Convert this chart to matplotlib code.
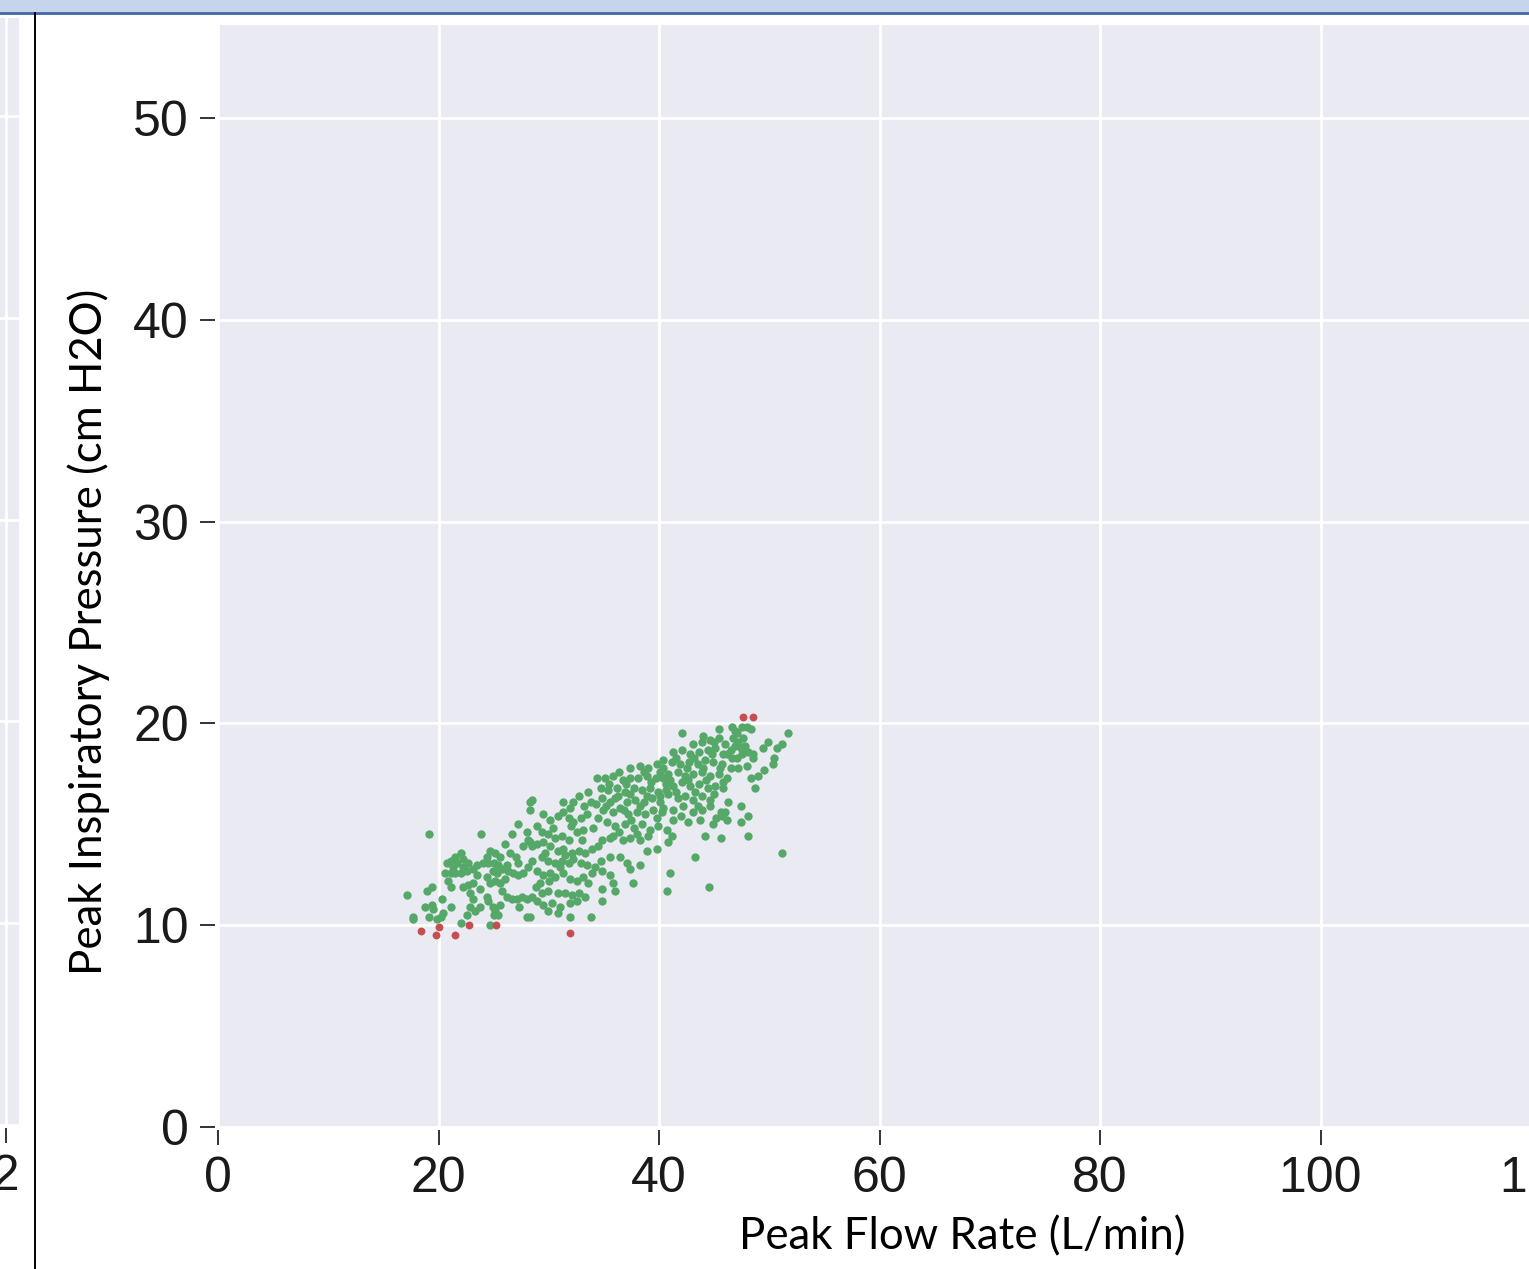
import matplotlib
matplotlib.use("Agg")
import matplotlib.pyplot as plt
from matplotlib.patches import Rectangle
from matplotlib.lines import Line2D

# (peak flow L/min, peak inspiratory pressure cm H2O)
green_points = [
    (19.1, 14.5), (23.9, 14.5), (27.2, 15.0), (28.3, 16.1), (28.3, 15.7), (26.7, 14.5),
    (28.0, 14.6), (28.1, 14.2), (27.7, 13.9), (28.5, 13.9), (22.0, 13.6), (21.5, 13.4),
    (21.1, 13.2), (20.8, 13.1), (22.2, 13.3), (22.7, 13.1), (21.7, 13.1), (21.3, 12.9),
    (20.6, 12.6), (21.1, 12.6), (21.5, 12.6), (22.0, 12.6), (22.6, 12.7), (23.1, 12.8),
    (23.5, 13.0), (24.0, 13.1), (24.4, 13.4), (24.7, 13.7), (25.1, 13.6), (25.6, 13.4),
    (24.5, 13.1), (25.0, 13.1), (25.4, 13.0), (24.9, 12.7), (25.3, 12.6), (25.8, 12.8),
    (26.2, 13.0), (26.5, 13.6), (27.0, 13.4), (27.2, 13.1), (26.8, 12.6), (27.2, 12.5),
    (27.7, 12.6), (28.1, 12.9), (28.5, 13.2), (24.4, 12.4), (24.7, 12.1), (25.1, 12.2),
    (25.6, 12.1), (26.0, 12.3), (22.2, 11.9), (22.7, 12.0), (23.1, 12.1), (21.1, 11.9),
    (19.0, 11.7), (19.4, 11.9), (17.1, 11.5), (22.9, 11.6), (23.1, 11.3), (22.9, 10.9),
    (23.8, 11.8), (24.4, 11.4), (24.5, 11.2), (24.9, 10.9), (25.1, 10.7), (25.4, 10.5),
    (25.0, 10.5), (25.8, 11.7), (26.2, 11.4), (26.7, 11.3), (27.1, 11.3), (27.6, 11.4),
    (28.0, 11.3), (28.5, 11.4), (23.8, 10.9), (23.3, 10.7), (22.6, 10.5), (18.8, 10.9),
    (19.4, 11.0), (19.5, 10.8), (20.3, 11.3), (21.1, 10.9), (20.4, 10.6), (20.2, 10.4),
    (19.9, 10.3), (19.1, 10.4), (17.7, 10.4), (17.7, 10.3), (22.0, 10.1), (24.7, 10.0),
    (28.0, 10.4),
    (37.4, 17.8), (38.3, 17.9), (39.0, 17.8), (39.8, 18.0), (40.4, 17.8), (34.4, 17.3),
    (35.1, 17.3), (35.8, 17.4), (36.7, 17.2), (37.4, 17.3), (38.1, 17.3), (38.9, 17.4),
    (39.7, 17.3), (40.4, 17.3), (34.7, 16.8), (35.4, 16.7), (36.2, 16.8), (36.9, 16.6),
    (37.7, 16.8), (38.5, 16.7), (39.2, 16.8), (39.9, 16.6), (40.6, 16.7), (34.8, 16.3),
    (35.6, 16.1), (36.3, 16.4), (37.1, 16.1), (37.8, 16.2), (38.6, 16.1), (39.4, 16.3),
    (40.1, 16.1), (34.9, 15.7), (35.8, 15.6), (36.5, 15.8), (37.2, 15.5), (38.0, 15.6),
    (38.7, 15.5), (39.5, 15.7), (40.3, 15.6), (35.3, 15.1), (36.0, 14.9), (36.9, 15.0),
    (37.7, 14.8), (38.5, 15.0), (39.2, 14.7), (39.9, 14.9), (35.8, 14.4), (36.7, 14.2),
    (37.4, 14.3), (38.3, 14.2), (39.0, 14.4), (28.5, 16.2), (31.3, 16.1), (31.9, 15.8),
    (32.2, 16.1), (32.7, 16.4), (33.6, 16.6), (33.8, 16.1), (29.5, 15.5), (30.1, 15.2),
    (30.8, 15.4), (31.3, 15.6), (31.8, 15.3), (32.2, 15.1), (32.9, 15.3), (33.5, 15.5),
    (34.0, 14.8), (33.1, 14.7), (32.6, 14.6), (28.9, 14.9), (29.4, 14.6), (29.9, 14.5),
    (30.6, 14.3), (31.2, 14.4), (31.8, 14.2), (28.3, 14.1), (28.9, 14.0), (29.5, 14.1),
    (30.1, 13.9), (30.8, 13.7), (31.3, 13.8), (32.1, 13.6), (32.7, 13.7), (33.3, 13.6),
    (33.9, 13.8), (34.5, 13.9), (34.8, 14.2), (35.6, 14.3), (29.4, 13.4), (29.9, 13.2),
    (30.6, 13.1), (31.2, 13.2), (31.8, 13.1), (32.2, 13.3), (32.9, 13.1), (33.5, 13.0),
    (34.2, 12.9), (34.8, 12.7), (35.6, 12.5), (34.7, 13.2), (35.6, 13.4), (36.5, 13.4),
    (37.1, 13.1), (37.4, 12.8), (38.3, 13.0), (38.9, 13.7), (39.8, 13.8), (28.9, 12.7),
    (29.5, 12.5), (30.1, 12.6), (30.6, 12.4), (31.3, 12.6), (31.9, 12.3), (32.6, 12.2),
    (33.1, 12.4), (33.6, 12.1), (28.8, 11.9), (29.4, 11.6), (29.9, 11.7), (30.8, 11.6),
    (31.5, 11.6), (32.1, 11.5), (32.7, 11.6), (33.3, 11.4), (35.8, 12.1), (34.8, 11.8),
    (36.0, 11.7), (28.9, 11.2), (29.5, 11.0), (30.3, 11.1), (31.0, 10.9), (31.9, 11.1),
    (32.6, 11.2), (34.8, 11.2), (29.9, 10.7), (30.8, 10.6), (31.9, 10.4), (33.8, 10.4),
    (28.3, 10.4), (37.6, 12.1), (40.7, 11.7),
    (42.1, 19.5), (45.4, 19.7), (46.6, 19.8), (47.1, 19.5), (47.5, 19.8), (48.0, 19.8),
    (48.3, 19.7), (46.7, 19.3), (47.2, 19.1), (47.6, 19.3), (46.9, 18.9), (47.4, 18.8),
    (47.8, 18.9), (47.5, 18.5), (48.1, 18.6), (47.1, 18.3), (51.7, 19.5), (51.2, 19.0),
    (50.7, 18.8), (49.9, 19.1), (49.4, 18.8), (48.5, 18.5), (48.5, 18.3), (50.4, 18.3),
    (50.3, 18.0), (49.5, 17.7), (49.0, 17.4), (48.7, 16.8), (48.0, 17.9), (48.3, 17.3),
    (43.1, 19.0), (43.9, 19.1), (44.6, 19.2), (45.4, 19.3), (46.0, 19.0), (46.5, 18.7),
    (41.3, 18.6), (42.1, 18.7), (42.8, 18.5), (43.6, 18.6), (44.4, 18.7), (45.1, 18.8),
    (45.8, 18.5), (46.6, 18.3), (40.4, 18.2), (41.2, 18.1), (41.9, 18.0), (42.7, 18.1),
    (43.5, 18.0), (44.2, 18.2), (44.9, 18.1), (45.7, 18.0), (46.5, 17.8), (47.2, 17.8),
    (40.1, 17.6), (40.8, 17.5), (41.7, 17.6), (42.4, 17.4), (43.1, 17.5), (43.9, 17.6),
    (44.6, 17.4), (45.4, 17.5), (46.2, 17.3), (40.6, 17.0), (41.3, 16.9), (42.1, 17.1),
    (42.8, 16.9), (43.6, 17.0), (44.4, 16.8), (45.1, 16.9), (45.8, 16.8), (40.1, 16.4),
    (40.8, 16.5), (41.7, 16.3), (42.4, 16.4), (43.1, 16.2), (43.9, 16.4), (44.6, 16.2),
    (40.4, 15.8), (41.3, 15.7), (42.2, 15.9), (43.1, 15.6), (43.9, 15.7), (44.6, 15.9),
    (45.6, 15.6), (41.3, 15.2), (42.6, 15.1), (43.7, 15.2), (44.9, 15.0), (45.7, 15.4),
    (46.2, 15.2), (46.0, 15.6), (46.3, 16.1), (47.4, 15.9), (48.1, 15.4), (47.4, 15.1),
    (40.7, 14.7), (41.2, 14.4), (40.8, 14.1), (44.2, 14.4), (45.6, 14.3), (48.1, 14.4),
    (43.3, 13.4), (51.2, 13.6), (41.0, 12.6), (44.5, 11.9),
    # denser parts of the main cloud
    (35.5, 17.0), (36.4, 17.6), (37.0, 17.0), (38.6, 17.6), (39.3, 17.1), (36.0, 16.3),
    (37.4, 16.5), (38.9, 16.4), (35.2, 15.9), (36.8, 15.7), (38.3, 15.9), (39.8, 15.3),
    (37.5, 15.2), (36.4, 14.6), (38.0, 14.5), (34.3, 16.0), (33.2, 15.9), (34.5, 15.3),
    (41.5, 18.3), (43.2, 18.3), (44.8, 18.5), (46.2, 18.5), (42.5, 17.8), (44.0, 17.8),
    (45.5, 17.8), (41.0, 17.2), (42.6, 17.2), (44.3, 17.2), (45.8, 17.1), (41.5, 16.6),
    (43.3, 16.6), (45.0, 16.5), (42.0, 15.4), (43.5, 15.9), (45.2, 15.3), (44.0, 19.4),
    (45.0, 19.1), (46.9, 19.6), (30.4, 14.8), (32.0, 14.9), (29.7, 13.6), (31.5, 13.5),
    (33.0, 14.2), (30.0, 12.2), (31.0, 12.9), (33.9, 12.6), (29.2, 12.1), (26.0, 14.0),
    (26.3, 12.7), (23.5, 12.5), (22.2, 12.9), (20.9, 12.2), (25.6, 11.0), (27.3, 10.9),
]
red_points = [
    (18.4, 9.7), (19.8, 9.5), (20.0, 9.9), (21.5, 9.5), (22.8, 10.0), (25.2, 10.0),
    (31.9, 9.6), (47.6, 20.3), (48.5, 20.3),
]

x_ticks = [0, 20, 40, 60, 80, 100, 120]
y_ticks = [0, 10, 20, 30, 40, 50]
x_label = "Peak Flow Rate (L/min)"
y_label = "Peak Inspiratory Pressure (cm H2O)"

green_x, green_y = zip(*green_points)
red_x, red_y = zip(*red_points)

W, H = 1529, 1269
fig = plt.figure(figsize=(W / 100, H / 100), dpi=100)
fig.patch.set_facecolor("white")


def px_box(x0, y0, x1, y1):
    # pixel box (from top-left) -> figure fraction [left, bottom, width, height]
    return [x0 / W, 1 - y1 / H, (x1 - x0) / W, (y1 - y0) / H]


def style(ax):
    ax.set_facecolor("#eaeaf2")
    ax.grid(True, color="white", linewidth=2)
    ax.set_axisbelow(True)
    for s in ax.spines.values():
        s.set_visible(False)
    ax.spines["left"].set_position(("outward", 2))
    ax.spines["bottom"].set_position(("outward", 2))
    ax.tick_params(direction="out", length=11, width=1.4, color="#333333",
                   labelsize=36, labelcolor="#1a1a1a", pad=8)
    for lab in ax.get_xticklabels() + ax.get_yticklabels():
        lab.set_family("Liberation Sans")


# main panel (runs off the right edge like the screenshot)
ax = fig.add_axes(px_box(218, 25, 1541, 1127))
ax.scatter(green_x, green_y, s=36, color="#55a868", linewidths=0, zorder=3)
ax.scatter(red_x, red_y, s=32, color="#c44e52", linewidths=0, zorder=3)
ax.set_xlim(0, 120)
ax.set_ylim(0, (1127 - 25) / 20.18)
ax.set_xticks(x_ticks)
ax.set_yticks(y_ticks)
style(ax)
ax.set_xlabel(x_label, fontsize=31.5, family="Lato")
ax.set_ylabel(y_label, fontsize=31.5, family="Lato")
ax.xaxis.set_label_coords(0.5624, -0.081)
ax.yaxis.set_label_coords(-0.082, 0.449)

# sliver of the neighbouring panel on the left
ax2 = fig.add_axes(px_box(-200, 18, 19, 1125))
ax2.set_xlim(120 - 205 / 11.02, 120 + 14 / 11.02)
ax2.set_ylim(0, (1125 - 18) / 20.18)
ax2.set_xticks([100, 120])
ax2.set_yticks(y_ticks)
style(ax2)

# screenshot frame: clip neighbour label, top window bar, divider line
fig.patches.append(Rectangle((19 / W, 0), 45 / W, 1 - 1140 / H,
                             transform=fig.transFigure, color="white", zorder=5))
fig.patches.append(Rectangle((0, 1 - 12 / H), 1, 12 / H,
                             transform=fig.transFigure, color="#c6d5eb", zorder=5))
fig.lines.append(Line2D([0, 1], [1 - 13 / H, 1 - 13 / H], transform=fig.transFigure,
                        color="#4467a6", linewidth=2, zorder=6))
fig.lines.append(Line2D([34.5 / W, 34.5 / W], [0, 1 - 13 / H], transform=fig.transFigure,
                        color="black", linewidth=1.4, zorder=6))

fig.savefig("out.png", dpi=100)
